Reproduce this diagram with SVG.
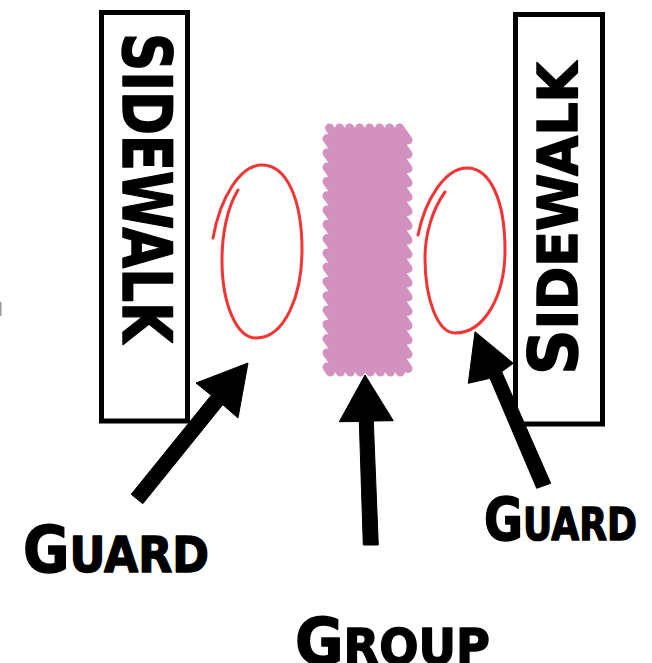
<svg xmlns="http://www.w3.org/2000/svg" width="652" height="663" viewBox="0 0 652 663">
  <style>
    .box { fill: #ffffff; stroke: #000000; stroke-width: 5; }
    .lbl { font-family: "DejaVu Sans", "Liberation Sans", sans-serif; font-weight: bold; fill: #000000; stroke: #000000; stroke-width: 1.5; stroke-linejoin: round; }
    .zone { fill: none; stroke: #f43434; stroke-width: 3; stroke-linecap: round; stroke-linejoin: round; }
    .hatch { fill: none; stroke: #d291bf; stroke-width: 9; stroke-linecap: round; }
    .arrow { fill: #000000; stroke: #000000; stroke-width: 1; stroke-linejoin: miter; }
  </style>
  <rect width="652" height="663" fill="#ffffff"/>
  <rect x="0" y="302" width="1.5" height="14" fill="#9a9a9a"/>

  <g id="sidewalk-left">
    <rect class="box" x="101.5" y="12.5" width="86" height="408.5"/>
    <text class="lbl" transform="translate(123,33) rotate(90)" x="0" y="0" font-size="68" textLength="310" lengthAdjust="spacingAndGlyphs">SIDEWALK</text>
  </g>

  <g id="sidewalk-right">
    <rect class="box" x="515.5" y="14.5" width="87" height="409.5"/>
    <text class="lbl" transform="translate(577,375) rotate(-90)" x="0" y="0" font-size="55" textLength="313" lengthAdjust="spacingAndGlyphs"><tspan font-size="67">S</tspan>IDEWALK</text>
  </g>

  <g id="guard-left-zone">
    <path class="zone" d="M238,190 C227,208 222,235 222,260 C222,305 237,338 256,338 C285,338 302,295 302,250 C302,200 287,165 262,165 C240,165 220,198 213,238"/>
  </g>

  <g id="guard-right-zone">
    <path class="zone" d="M445,192 C432,210 425,235 425,258 C425,300 438,333 455,333 C485,333 505,295 505,250 C505,200 490,168 467,168 C445,168 425,200 418,235"/>
  </g>

  <g id="group-block">
    <rect x="329" y="130" width="77" height="240" fill="#d291bf"/>
    <path class="hatch" d="M327,367.1 L330.4,372 M327,352.9 L340.4,372 M327,338.6 L350.4,372 M327,324.3 L360.4,372 M327,310 L370.4,372 M327,295.7 L380.4,372 M327,281.4 L390.4,372 M327,267.1 L400.4,372 M327,252.9 L408,368.6 M327,238.6 L408,354.3 M327,224.3 L408,340 M327,210 L408,325.7 M327,195.7 L408,311.4 M327,181.4 L408,297.1 M327,167.1 L408,282.9 M327,152.9 L408,268.6 M327,138.6 L408,254.3 M329.6,128 L408,240 M339.6,128 L408,225.7 M349.6,128 L408,211.4 M359.6,128 L408,197.1 M369.6,128 L408,182.9 M379.6,128 L408,168.6 M389.6,128 L408,154.3 M399.6,128 L408,140"/>
  </g>

  <g id="connectors">
    <polygon class="arrow" points="131.2,494.3 211.2,395.3 196,383 248,363 238,418 222.8,404.7 142.8,503.7"/>
    <polygon class="arrow" points="359.3,421.5 339.3,421.7 365,375 393.3,420.7 373.3,421 378.3,545 363.3,545"/>
    <polygon class="arrow" points="490,378.3 468.3,383.3 475,331.7 513.3,363.3 501.7,371.7 550.7,483.3 536.7,488.3"/>
  </g>

  <g id="guard-left-label">
    <text class="lbl" x="23" y="572" font-size="50" textLength="186" lengthAdjust="spacingAndGlyphs"><tspan font-size="64">G</tspan>UARD</text>
  </g>

  <g id="guard-right-label">
    <text class="lbl" x="484" y="540" font-size="44" textLength="153" lengthAdjust="spacingAndGlyphs"><tspan font-size="58">G</tspan>UARD</text>
  </g>

  <g id="group-label">
    <text class="lbl" x="295" y="664" font-size="50" textLength="195" lengthAdjust="spacingAndGlyphs"><tspan font-size="64">G</tspan>ROUP</text>
  </g>
</svg>
